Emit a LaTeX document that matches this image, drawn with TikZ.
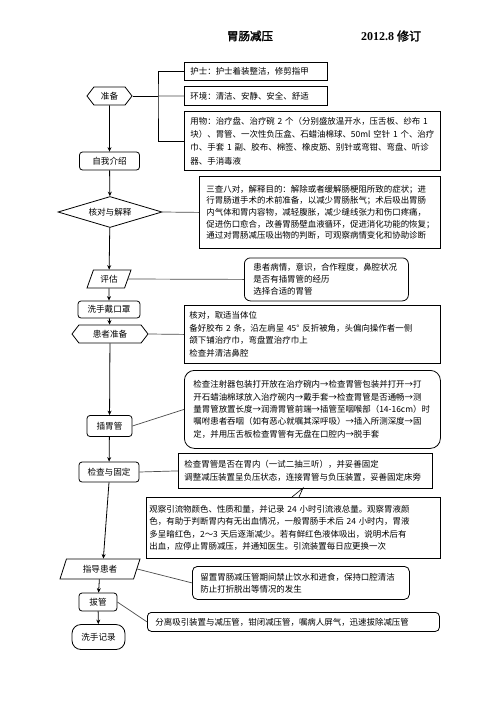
\documentclass[tikz,border=0pt]{standalone}
\usepackage{fontspec}
\setmainfont{Liberation Serif}
\newfontfamily\cjk[AutoFakeBold=2]{Noto Sans CJK SC}
\usepackage{tikz}
\usetikzlibrary{arrows.meta,shapes.geometric,shapes.symbols}

\tikzset{
  flowbox/.style={draw, line width=0.8pt, font=\cjk\fontsize{8.6}{12}\selectfont, inner sep=1pt},
  procbox/.style={flowbox, rounded corners=3pt},
  hexbox/.style={flowbox, signal, signal to=west and east, signal pointer angle=105},
  slantbox/.style={flowbox, trapezium, trapezium left angle=57, trapezium right angle=123, trapezium stretches body},
  decbox/.style={flowbox, diamond, aspect=3.3},
  notebox/.style={draw, line width=0.8pt, anchor=north west, align=left, inner ysep=1pt},
  linegap/.style={font=\cjk\fontsize{8.45}{#1}\selectfont},
  linkline/.style={draw=black!70, line width=0.7pt},
  flowarrow/.style={->, line width=0.8pt},
}

\begin{document}
\begin{tikzpicture}[x=1pt, y=-1pt, >={Stealth[length=4.5pt,width=4pt]}]
    \path[fill=white] (0,0) rectangle (496,702);
    \useasboundingbox (0,0) rectangle (496,702);

    % Title
    \node (title) at (250,36) {\cjk\bfseries\fontsize{11.5}{14}\selectfont 胃肠减压};
    \node (rev) at (391,36) {\bfseries\fontsize{12}{14}\selectfont 2012.8 {\cjk 修订}};

    % Main steps
    \node[hexbox, minimum width=45pt, minimum height=18pt] (prep) at (109.5,96) {准备};
    \node[procbox, minimum width=60pt, minimum height=18pt] (intro) at (109.5,161) {自我介绍};
    \node[decbox, minimum width=104pt, minimum height=31pt] (check) at (110,212) {核对与解释};
    \node[slantbox, minimum width=44pt, minimum height=18pt] (assess) at (109,279) {评估};
    \node[procbox, minimum width=62pt, minimum height=17pt] (wash) at (109,309.5) {洗手戴口罩};
    \node[hexbox, minimum width=76pt, minimum height=18pt] (patient) at (110,334) {患者准备};
    \node[procbox, minimum width=45pt, minimum height=21pt] (insert) at (109.5,426) {插胃管};
    \node[procbox, minimum width=60pt, minimum height=20pt] (fix) at (109,472) {检查与固定};
    \node[slantbox, minimum width=80pt, minimum height=20pt] (guide) at (100,569) {指导患者};
    \node[procbox, minimum width=38pt, minimum height=18pt] (pull) at (98,602) {拔管};
    \node[flowbox, rounded corners=9pt, minimum width=53pt, minimum height=25pt] (record) at (98.5,637) {洗手记录};

    % Notes
    \node[notebox, linegap=12, text width=131pt, inner xsep=6pt, minimum height=18pt] (nurse) at (184,62)
      {护士：护士着装整洁，修剪指甲};
    \node[notebox, linegap=12, text width=131pt, inner xsep=6pt, minimum height=19pt] (env) at (184,86)
      {环境：清洁、安静、安全、舒适};
    \node[notebox, linegap=13.3, text width=244pt, inner xsep=6pt, minimum height=59pt] (supply) at (184,111)
      {用物：治疗盘、治疗碗~2~个（分别盛放温开水，压舌板、纱布~1\\
       块）、胃管、一次性负压盒、石蜡油棉球、50ml~空针~1~个、治疗\\
       巾、手套~1~副、胶布、棉签、橡皮筋、别针或弯钳、弯盘、听诊\\
       器、手消毒液};
    \node[notebox, linegap=11.7, text width=227pt, inner xsep=7pt, minimum height=72pt] (purpose) at (199,176)
      {三查八对，解释目的：解除或者缓解肠梗阻所致的症状；进\\
       行胃肠道手术的术前准备，以减少胃肠胀气；术后吸出胃肠\\
       内气体和胃内容物，减轻腹胀，减少缝线张力和伤口疼痛，\\
       促进伤口愈合，改善胃肠壁血液循环，促进消化功能的恢复；\\
       通过对胃肠减压吸出物的判断，可观察病情变化和协助诊断};
    \node[notebox, linegap=11.7, rounded corners=6pt, text width=146pt, inner xsep=9pt, minimum height=43pt] (state) at (244,257.5)
      {患者病情，意识，合作程度，鼻腔状况\\
       是否有插胃管的经历\\
       选择合适的胃管};
    \node[notebox, linegap=12.7, text width=246pt, inner xsep=5pt, minimum height=58pt] (posture) at (184,305)
      {核对，取适当体位\\
       备好胶布~2~条，沿左肩呈~45°~反折被角，头偏向操作者一侧\\
       颌下铺治疗巾，弯盘置治疗巾上\\
       检查并清洁鼻腔};
    \node[notebox, linegap=12.3, rounded corners=10pt, text width=238pt, inner xsep=9pt, minimum height=78pt] (steps) at (184,370)
      {检查注射器包装打开放在治疗碗内→检查胃管包装并打开→打\\
       开石蜡油棉球放入治疗碗内→戴手套→检查胃管是否通畅→测\\
       量胃管放置长度→润滑胃管前端→插管至咽喉部（\mbox{14-16cm}）时\\
       嘱咐患者吞咽（如有恶心就嘱其深呼吸）→插入所测深度→固\\
       定，并用压舌板检查胃管有无盘在口腔内→脱手套};
    \node[notebox, linegap=13, text width=242pt, inner xsep=6pt, minimum height=35pt] (confirm) at (178,453)
      {检查胃管是否在胃内（一试二抽三听），并妥善固定\\
       调整减压装置呈负压状态，连接胃管与负压装置，妥善固定床旁};
    \node[notebox, linegap=12.4, text width=288pt, inner xsep=3pt, minimum height=61pt] (observe) at (146,497)
      {观察引流物颜色、性质和量，并记录~24~小时引流液总量。观察胃液颜\\
       色，有助于判断胃内有无出血情况，一般胃肠手术后~24~小时内，胃液\\
       多呈暗红色，2～3~天后逐渐减少。若有鲜红色液体吸出，说明术后有\\
       出血，应停止胃肠减压，并通知医生。引流装置每日应更换一次};
    \node[notebox, linegap=12, rounded corners=5pt, text width=201pt, inner xsep=8pt, minimum height=33pt] (care) at (192,566)
      {留置胃肠减压管期间禁止饮水和进食，保持口腔清洁\\
       防止打折脱出等情况的发生};
    \node[notebox, linegap=12, rounded corners=4pt, text width=276pt, inner xsep=8pt, minimum height=19pt] (remove) at (147,612)
      {分离吸引装置与减压管，钳闭减压管，嘱病人屏气，迅速拔除减压管};

    % Flow arrows
    \draw[flowarrow] (prep) -- (intro);
    \draw[flowarrow] (intro) -- (check);
    \draw[flowarrow] (check) -- (assess);
    \draw[flowarrow] (assess) -- (wash);
    \draw[flowarrow] (wash) -- (patient);
    \draw[flowarrow] (patient) -- (insert);
    \draw[flowarrow] (insert) -- (fix);
    \draw[flowarrow] (fix.south) -- (guide.top side);
    \draw[flowarrow] (guide) -- (pull);
    \draw[flowarrow] (pull) -- (record);

    % Links to notes
    \coordinate (fork) at (158,96);
    \draw[line width=0.8pt] (nurse.west) -| (fork) |- (supply.west);
    \draw[line width=0.8pt] (prep.east) -- (fork);
    \draw[linkline] (fork) -- (env.west);
    \draw[linkline] (check.east) -- (purpose.west);
    \draw[linkline] (assess.east) -- (state.west);
    \draw[linkline] (patient.east) -- (posture.west);
    \draw[linkline] (insert.east) -- (steps.west);
    \draw[linkline] (fix.east) -- (confirm.west);
    \draw[linkline] (guide.east) -- (care.west);
    \draw[linkline] (pull.east) -- (remove.west);
    \coordinate (ptr) at (303,488);
    \draw[fill=white, line width=0.6pt] (292,497) -- (ptr) -- (299,497);
\end{tikzpicture}
\end{document}
